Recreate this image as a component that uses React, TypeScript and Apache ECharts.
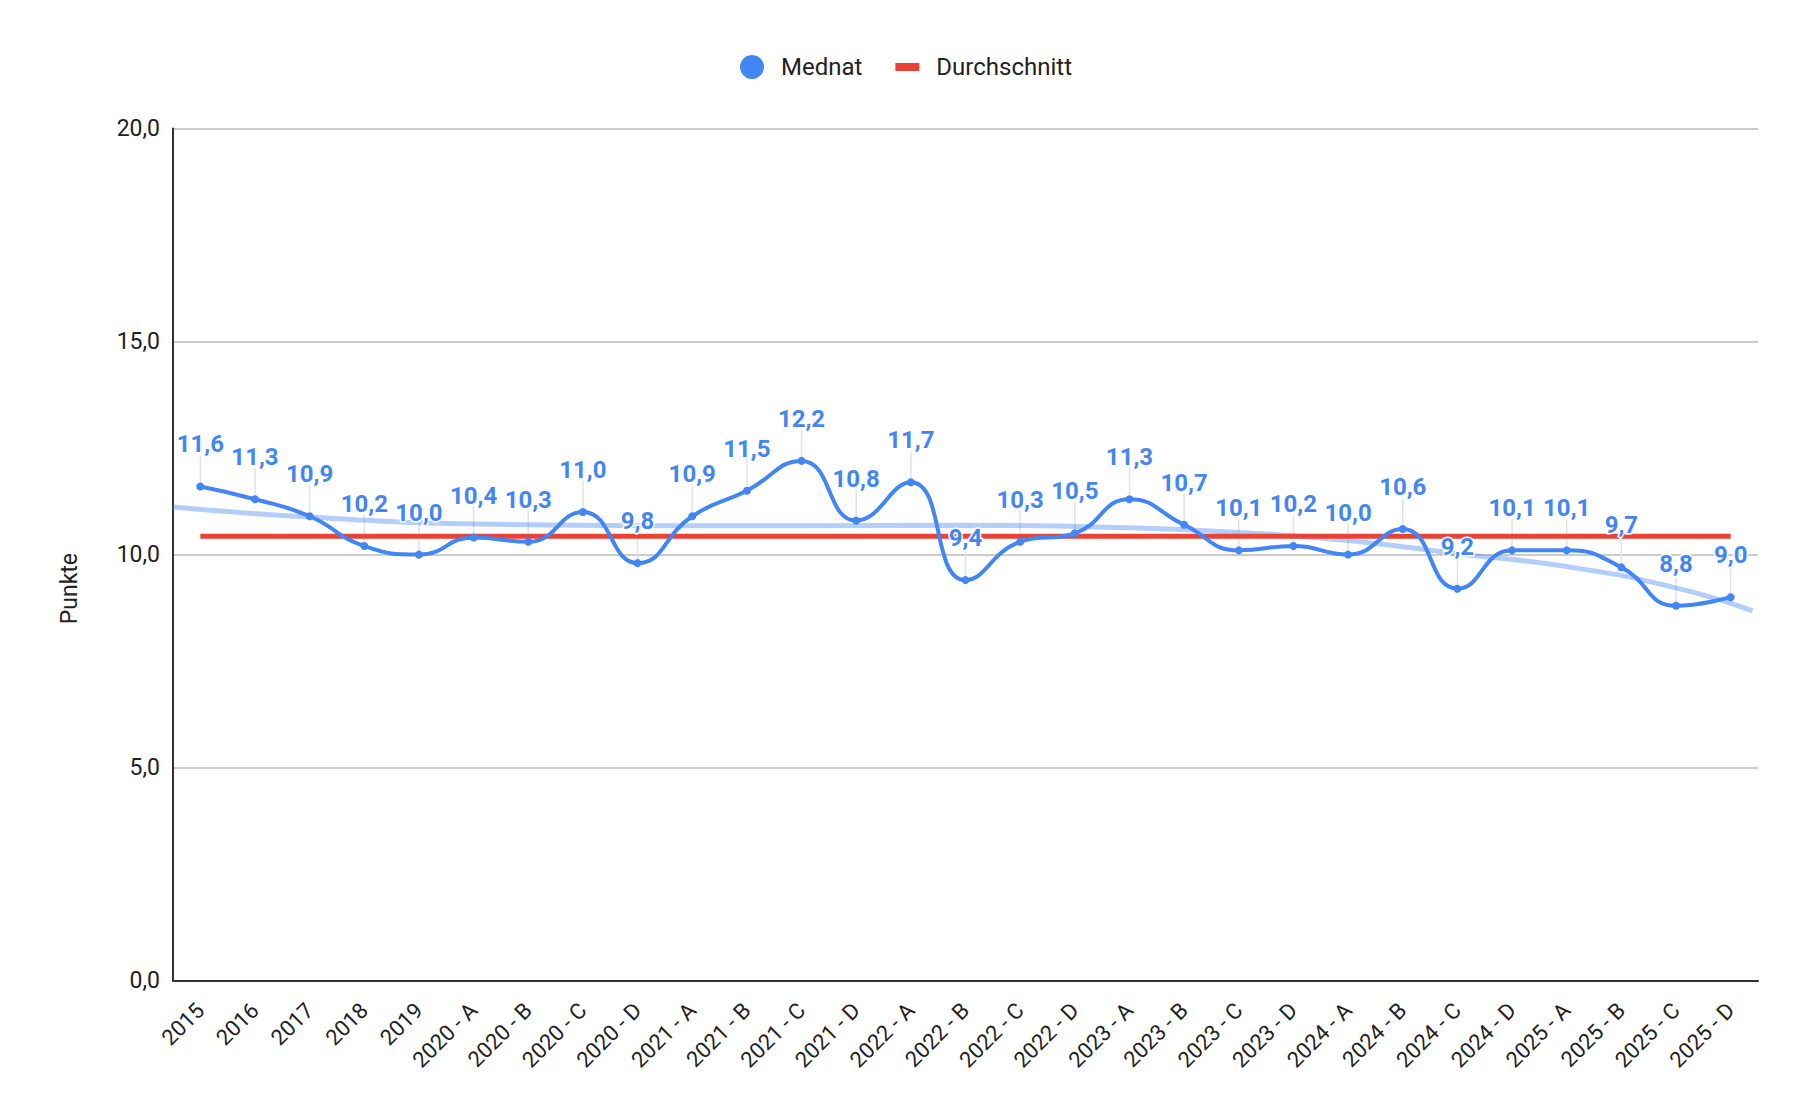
import React, { useEffect, useRef } from "react";
import * as echarts from "echarts";

const CATEGORIES = [
  "2015", "2016", "2017", "2018", "2019",
  "2020 - A", "2020 - B", "2020 - C", "2020 - D",
  "2021 - A", "2021 - B", "2021 - C", "2021 - D",
  "2022 - A", "2022 - B", "2022 - C", "2022 - D",
  "2023 - A", "2023 - B", "2023 - C", "2023 - D",
  "2024 - A", "2024 - B", "2024 - C", "2024 - D",
  "2025 - A", "2025 - B", "2025 - C", "2025 - D",
];

const MEDNAT = [
  11.6, 11.3, 10.9, 10.2, 10.0,
  10.4, 10.3, 11.0, 9.8,
  10.9, 11.5, 12.2, 10.8,
  11.7, 9.4, 10.3, 10.5,
  11.3, 10.7, 10.1, 10.2,
  10.0, 10.6, 9.2, 10.1,
  10.1, 9.7, 8.8, 9.0,
];

const AVERAGE = 10.43;

// trendline (position in category units, value)
const TREND_X = [-0.5, 2, 5, 8, 11, 14, 17, 19, 21, 23, 25, 27, 28.4];
const TREND_Y = [11.12, 10.88, 10.72, 10.68, 10.68, 10.69, 10.63, 10.52, 10.33, 10.02, 9.72, 9.22, 8.68];

const Y_MIN = 0;
const Y_MAX = 20;
const Y_INTERVAL = 5;

const BLUE = "#4285F4";
const RED = "#EA4335";
const FONT = "Roboto";

const fmt = (v: number) => v.toFixed(1).replace(".", ",");

export default function App() {
  const ref = useRef<HTMLDivElement>(null);

  useEffect(() => {
    document.body.style.margin = "0";
    if (!ref.current) return;
    const chart = echarts.init(ref.current, undefined, { renderer: "svg" });

    const option: any = {
      animation: false,
      backgroundColor: "#ffffff",
      legend: {
        top: 50,
        left: "center",
        itemWidth: 24,
        itemHeight: 24,
        itemGap: 33,
        itemStyle: { borderWidth: 0 },
        textStyle: {
          fontFamily: FONT,
          fontSize: 24,
          color: "#222222",
          padding: [0, 0, 0, 12],
        },
        data: [
          { name: "Mednat", icon: "circle" },
          { name: "Durchschnitt", icon: "path://M0 0M24 24M0 8H24V16H0Z" },
        ],
      },
      grid: {
        left: 173,
        right: 54,
        top: 128.6,
        bottom: 139.4,
        containLabel: false,
        outerBoundsMode: "none",
      },
      xAxis: [
        {
          type: "category",
          data: CATEGORIES,
          boundaryGap: true,
          axisLine: { show: true, onZero: false, lineStyle: { color: "#333333", width: 2 } },
          axisTick: { show: false },
          axisLabel: {
            interval: 0,
            rotate: 45,
            margin: 26,
            fontFamily: FONT,
            fontSize: 22,
            color: "#222222",
          },
          splitLine: { show: false },
        },
        {
          type: "value",
          min: -0.5,
          max: CATEGORIES.length - 0.5,
          show: false,
          position: "bottom",
          axisLine: { onZero: false },
          splitLine: { show: false },
        },
      ],
      yAxis: {
        type: "value",
        min: Y_MIN,
        max: Y_MAX,
        interval: Y_INTERVAL,
        name: "Punkte",
        nameLocation: "middle",
        nameRotate: 90,
        nameGap: 92,
        nameTextStyle: {
          fontFamily: FONT,
          fontSize: 23,
          color: "#222222",
          padding: [0, 68, 0, 0],
        },
        axisLine: { show: true, onZero: false, lineStyle: { color: "#333333", width: 2 } },
        axisTick: { show: false },
        axisLabel: {
          formatter: (v: number) => fmt(v),
          fontFamily: FONT,
          fontSize: 23,
          color: "#222222",
          margin: 13,
        },
        splitLine: { show: true, lineStyle: { color: "#cccccc", width: 2 } },
      },
      series: [
        {
          name: "Trend",
          type: "line",
          xAxisIndex: 1,
          data: TREND_X.map((x, i) => [x, TREND_Y[i]]),
          smooth: true,
          symbol: "none",
          silent: true,
          lineStyle: { color: BLUE, opacity: 0.4, width: 5 },
          itemStyle: { color: BLUE },
          z: 2,
        },
        {
          name: "Leader",
          type: "custom",
          xAxisIndex: 0,
          yAxisIndex: 0,
          silent: true,
          z: 1,
          data: MEDNAT.map((v, i) => [i, v]),
          encode: { x: 0, y: 1 },
          renderItem: (params: any, api: any) => {
            const p = api.coord([api.value(0), api.value(1)]);
            return {
              type: "line",
              shape: { x1: p[0], y1: p[1], x2: p[0], y2: p[1] - 31 },
              style: { stroke: "#e2e2e2", lineWidth: 1.5 },
            };
          },
        },
        {
          name: "Durchschnitt",
          type: "line",
          data: CATEGORIES.map(() => AVERAGE),
          symbol: "none",
          silent: true,
          lineStyle: { color: RED, width: 5 },
          itemStyle: { color: RED },
          z: 3,
        },
        {
          name: "Mednat",
          type: "line",
          data: MEDNAT,
          smooth: 0.5,
          symbol: "circle",
          symbolSize: 8,
          showAllSymbol: true,
          lineStyle: { color: BLUE, width: 4 },
          itemStyle: { color: BLUE },
          z: 5,
          label: {
            show: true,
            position: "top",
            distance: 26,
            formatter: (p: any) => fmt(p.value),
            fontFamily: FONT,
            fontWeight: "bold",
            fontSize: 24,
            color: BLUE,
            textBorderColor: "#ffffff",
            textBorderWidth: 3,
          },
        },
      ],
    };

    chart.setOption(option);
    return () => chart.dispose();
  }, []);

  return <div ref={ref} style={{ width: 1812, height: 1120 }} />;
}
